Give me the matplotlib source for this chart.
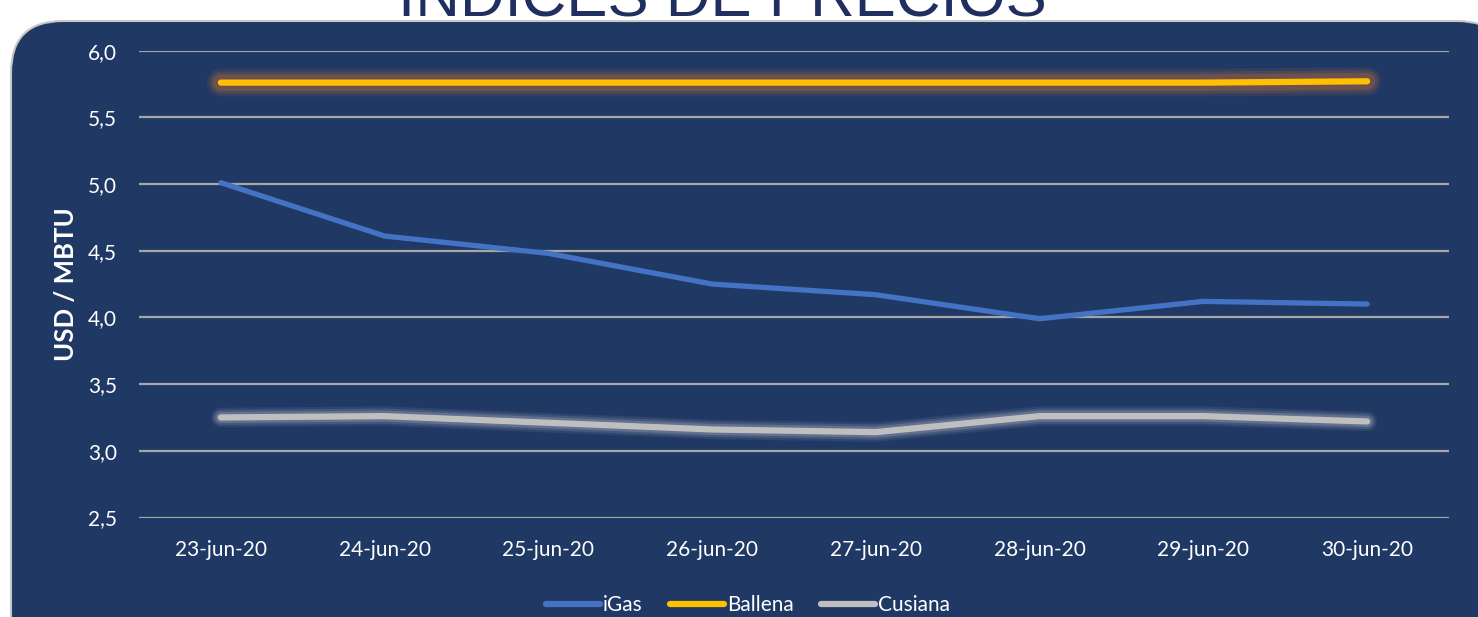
import matplotlib.pyplot as plt
from matplotlib.lines import Line2D
from matplotlib.patches import FancyBboxPatch
from matplotlib.ticker import FuncFormatter

DATES = ['23-jun-20', '24-jun-20', '25-jun-20', '26-jun-20',
         '27-jun-20', '28-jun-20', '29-jun-20', '30-jun-20']
IGAS = [5.01, 4.61, 4.48, 4.25, 4.17, 3.99, 4.12, 4.10]
BALLENA = [5.76, 5.76, 5.76, 5.76, 5.76, 5.76, 5.76, 5.77]
CUSIANA = [3.25, 3.26, 3.21, 3.16, 3.14, 3.26, 3.26, 3.22]
YTICKS = [2.5, 3.0, 3.5, 4.0, 4.5, 5.0, 5.5, 6.0]

NAVY = '#203864'
W, H = 1478, 617

plt.rcParams['font.family'] = ['Lato', 'DejaVu Sans']

fig = plt.figure(figsize=(W / 100, H / 100), dpi=100, facecolor='white')

# rounded dark panel, runs off the bottom of the picture
panel = FancyBboxPatch((11 / W, -0.2), (W + 20) / W, (H - 21) / H + 0.2,
                       boxstyle='round,pad=0,rounding_size=0.035',
                       transform=fig.transFigure, facecolor=NAVY,
                       edgecolor='#c8c8c8', linewidth=1.5, zorder=-5,
                       mutation_aspect=W / H)
fig.patches.append(panel)

fig.text(722 / W, 1 - 15 / H, 'ÍNDICES DE PRECIOS', family='Liberation Sans',
         fontsize=44.5, color='#1f3060', ha='center', va='baseline')

ax = fig.add_axes([139 / W, 1 - 517.5 / H, 1310 / W, 466.9 / H])
ax.set_facecolor('none')
ax.set_zorder(2)
x = range(len(DATES))

# soft glow under Ballena and Cusiana
for lw, a in [(20, 0.10), (16, 0.14), (12, 0.2)]:
    ax.plot(x, BALLENA, color='#ed7d31', lw=lw, alpha=a, solid_capstyle='round', zorder=2)
for lw, a in [(14, 0.08), (11, 0.12), (8, 0.18)]:
    ax.plot(x, CUSIANA, color='#e8e8e8', lw=lw, alpha=a, solid_capstyle='round', zorder=2)

ax.plot(x, IGAS, color='#4472c4', lw=3.8, solid_capstyle='round', zorder=3)
ax.plot(x, BALLENA, color='#ffc000', lw=4.5, solid_capstyle='round', zorder=3)
ax.plot(x, CUSIANA, color='#bfbfbf', lw=4.5, solid_capstyle='round', zorder=3)

ax.set_xlim(-0.5, len(DATES) - 0.5)
ax.set_ylim(2.5, 6.0)
ax.set_yticks(YTICKS)
ax.yaxis.set_major_formatter(FuncFormatter(lambda v, p: f'{v:.1f}'.replace('.', ',')))
ax.set_xticks(list(x))
ax.set_xticklabels(DATES)
ax.tick_params(colors='white', labelsize=15, length=0)
ax.tick_params(axis='y', pad=16)
ax.tick_params(axis='x', pad=16)
for s in ax.spines.values():
    s.set_visible(False)
ax.grid(axis='y', color='#a6a6a6', lw=1.6)
ax.set_axisbelow(True)
ax.set_ylabel('USD / MBTU', color='white', fontsize=18.5, fontweight='bold')
ax.yaxis.set_label_coords(-0.0465, 0.5)

handles = [Line2D([], [], color=c, lw=4.5, solid_capstyle='round')
           for c in ['#4472c4', '#ffc000', '#bfbfbf']]
leg = fig.legend(handles, ['iGas', 'Ballena', 'Cusiana'], loc='center',
                 bbox_to_anchor=(748 / W, 1 - 605 / H), ncol=3, frameon=False,
                 fontsize=15, labelcolor='white', handlelength=2.6,
                 handletextpad=0.15, columnspacing=1.3)

fig.savefig('out.png', dpi=100, facecolor='white')
